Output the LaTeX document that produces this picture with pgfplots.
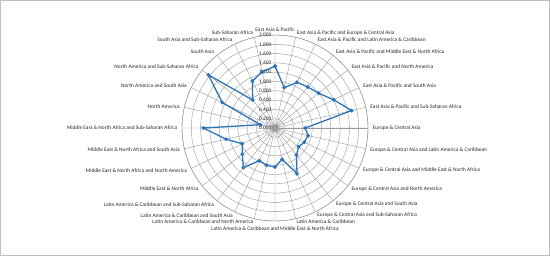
\documentclass[border=0pt]{standalone}
\usepackage{fontspec}
\setmainfont{Carlito}
\usepackage{pgfplots}
\pgfplotsset{compat=1.18}
\usepgfplotslibrary{polar}
\definecolor{serblue}{HTML}{2E75B6}
\definecolor{gridgray}{HTML}{9A9A9A}
\begin{document}
\begin{tikzpicture}[x=1bp,y=1bp]
\path[use as bounding box] (0,0) rectangle (550,256);
\draw[black!25, line width=0.6bp] (0.3,0.3) rectangle (549.7,255.7);
\begin{polaraxis}[
  at={(275bp,128bp)}, anchor=origin,
  scale only axis, width=186bp, height=186bp,
  xmin=0, xmax=360, ymin=0, ymax=2,
  xtick={90,77.143,64.286,51.429,38.571,25.714,12.857,0,347.143,334.286,321.429,308.571,295.714,282.857,270,257.143,244.286,231.429,218.571,205.714,192.857,180,167.143,154.286,141.429,128.571,115.714,102.857},
  xticklabel=\empty,
  ytick={0,0.2,0.4,0.6,0.8,1,1.2,1.4,1.6,1.8,2},
  yticklabel=\empty,
  grid=major,
  major grid style={draw=gridgray, line width=0.4bp},
  axis line style={draw=gridgray, line width=0.4bp},
  tick style={draw=none},
  clip=false,
]
\addplot[serblue, line width=1.3bp, mark=*, mark size=1.2bp, mark options={fill=serblue, draw=serblue}] coordinates {
(90,1.33) (77.143,0.89) (64.286,1.09) (51.429,1.13) (38.571,1.20) (25.714,1.40) (12.857,1.69)
(0,0.65) (347.143,0.73) (334.286,0.70) (321.429,0.65) (308.571,0.74) (295.714,1.09)
(282.857,0.69) (270,0.84) (257.143,0.82) (244.286,0.78) (231.429,1.09) (218.571,0.90)
(205.714,0.78) (192.857,1.08) (180,1.54) (167.143,0.32) (154.286,1.26) (141.429,1.83)
(128.571,0.77) (115.714,1.12) (102.857,1.24) (90,1.33)};
\tikzset{
  lbl/.style={font=\fontsize{5.4}{6.4}\selectfont, inner sep=0pt, text=black!85},
  R/.style={lbl, anchor=west},
  L/.style={lbl, anchor=east},
  rl/.style={lbl, anchor=east, xshift=-3.5bp}}
\node[lbl, anchor=south] at (axis cs:90,2.06) {East Asia \& Pacific};
\node[R] at (axis cs:77.143,2.1) {East Asia \& Pacific and Europe \& Central Asia};
\node[R] at (axis cs:64.286,2.1) {East Asia \& Pacific and Latin America \& Caribbean};
\node[R] at (axis cs:51.429,2.1) {East Asia \& Pacific and Middle East \& North Africa};
\node[R] at (axis cs:38.571,2.1) {East Asia \& Pacific and North America};
\node[R] at (axis cs:25.714,2.1) {East Asia \& Pacific and South Asia};
\node[R] at (axis cs:12.857,2.1) {East Asia \& Pacific and Sub-Saharan Africa};
\node[R] at (axis cs:0,2.1) {Europe \& Central Asia};
\node[R] at (axis cs:347.143,2.1) {Europe \& Central Asia and Latin America \& Caribbean};
\node[R] at (axis cs:334.286,2.1) {Europe \& Central Asia and Middle East \& North Africa};
\node[R] at (axis cs:321.429,2.1) {Europe \& Central Asia and North America};
\node[R] at (axis cs:308.571,2.1) {Europe \& Central Asia and South Asia};
\node[R] at (axis cs:295.714,2.09) {Europe \& Central Asia and Sub-Saharan Africa};
\node[R] at (axis cs:282.857,2.07) {Latin America \& Caribbean};
\node[lbl, anchor=north] at (axis cs:270,2.125) {Latin America \& Caribbean and Middle East \& North Africa};
\node[L] at (axis cs:257.143,2.07) {Latin America \& Caribbean and North America};
\node[L] at (axis cs:244.286,2.09) {Latin America \& Caribbean and South Asia};
\node[L] at (axis cs:231.429,2.1) {Latin America \& Caribbean and Sub-Saharan Africa};
\node[L] at (axis cs:218.571,2.1) {Middle East \& North Africa};
\node[L] at (axis cs:205.714,2.1) {Middle East \& North Africa and North America};
\node[L] at (axis cs:192.857,2.1) {Middle East \& North Africa and South Asia};
\node[L] at (axis cs:180,2.1) {Middle East \& North Africa and Sub-Saharan Africa};
\node[L] at (axis cs:167.143,2.1) {North America};
\node[L] at (axis cs:154.286,2.1) {North America and South Asia};
\node[L] at (axis cs:141.429,2.1) {North America and Sub-Saharan Africa};
\node[L] at (axis cs:128.571,2.1) {South Asia};
\node[L] at (axis cs:115.714,2.1) {South Asia and Sub-Saharan Africa};
\node[L] at (axis cs:102.857,2.1) {Sub-Saharan Africa};
\node[rl] at (axis cs:90,0) {0.000};
\node[rl] at (axis cs:90,0.2) {0.200};
\node[rl] at (axis cs:90,0.4) {0.400};
\node[rl] at (axis cs:90,0.6) {0.600};
\node[rl] at (axis cs:90,0.8) {0.800};
\node[rl] at (axis cs:90,1.0) {1.000};
\node[rl] at (axis cs:90,1.2) {1.200};
\node[rl] at (axis cs:90,1.4) {1.400};
\node[rl] at (axis cs:90,1.6) {1.600};
\node[rl] at (axis cs:90,1.8) {1.800};
\node[rl] at (axis cs:90,2.0) {2.000};
\end{polaraxis}
\end{tikzpicture}
\end{document}
